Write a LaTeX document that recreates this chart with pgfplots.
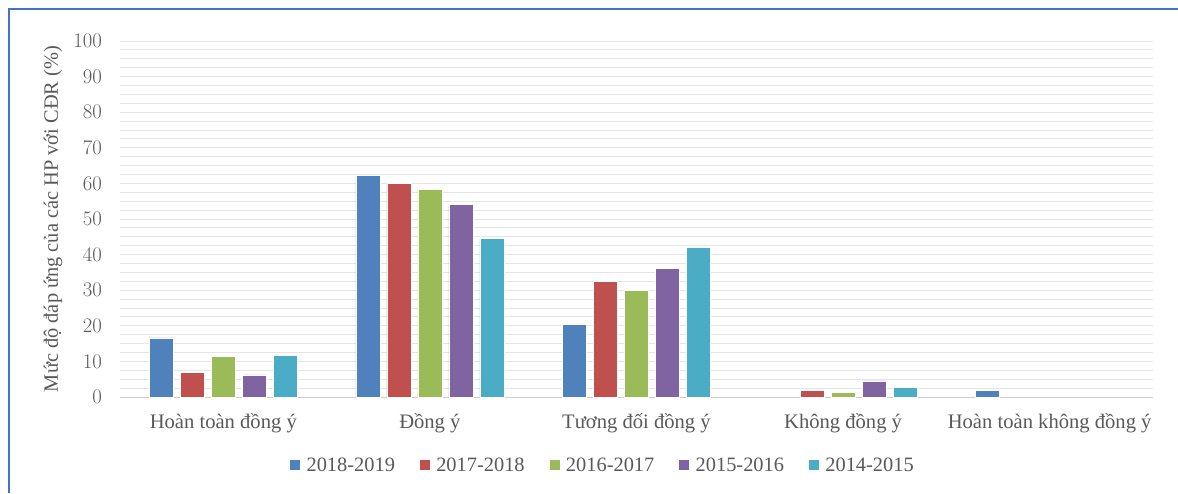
\documentclass[border=0pt]{standalone}
\usepackage{fontspec}
\setmainfont{Liberation Serif}
\usepackage{pgfplots}
\pgfplotsset{compat=1.18}
\definecolor{s1}{HTML}{4F81BD}
\definecolor{s2}{HTML}{C0504D}
\definecolor{s3}{HTML}{9BBB59}
\definecolor{s4}{HTML}{8064A2}
\definecolor{s5}{HTML}{4BACC6}
\definecolor{frame}{HTML}{4472C4}
\definecolor{lbl}{HTML}{595959}
\begin{document}
\begin{tikzpicture}
\begin{axis}[
  at={(120pt,96pt)}, anchor=south west,
  scale only axis, width=1033pt, height=356pt,
  ybar=7pt, bar width=24pt,
  xmin=-0.5, xmax=4.5, ymin=0, ymax=100,
  enlargelimits=false,
  xtick={0,1,2,3,4},
  xticklabels={Hoàn toàn đồng ý, Đồng ý, Tương đối đồng ý, Không đồng ý, Hoàn toàn không đồng ý},
  ytick={0,10,...,100},
  minor y tick num=3,
  ymajorgrids, yminorgrids,
  major grid style={draw=gray!20, line width=0.9pt},
  minor grid style={draw=gray!20, line width=0.9pt},
  axis lines*=left,
  y axis line style={draw=none},
  x axis line style={draw=gray!40, line width=0.9pt},
  major tick length=0pt, minor tick length=0pt,
  tick style={draw=none},
  tick label style={font=\fontsize{20.6}{24}\selectfont, text=lbl},
  yticklabel style={inner xsep=0pt, xshift=-18pt},
  xticklabel style={yshift=-13pt},
  ylabel={Mức độ đáp ứng của các HP với CĐR (\%)},
  every axis y label/.style={at={(axis description cs:-0.0649,0.5)}, rotate=90, anchor=center, font=\fontsize{20.4}{24}\selectfont, text=lbl},
  legend columns=5,
  legend style={at={(0.4676,-0.191)}, anchor=center, draw=none, fill=none,
    font=\fontsize{20.4}{24}\selectfont, text=lbl,
    /tikz/every even column/.append style={column sep=23pt},
    /tikz/every odd column/.append style={column sep=0pt}},
  legend image code/.code={\fill[#1,draw=none] (0pt,-5pt) rectangle (10pt,5pt); \path (14pt,0pt);},
]
\addplot[fill=s1, draw=white, line width=0.6pt] coordinates {(0,16.6) (1,62.2) (2,20.5) (4,1.8)};
\addplot[fill=s2, draw=white, line width=0.6pt] coordinates {(0,6.9) (1,60.0) (2,32.4) (3,1.8)};
\addplot[fill=s3, draw=white, line width=0.6pt] coordinates {(0,11.4) (1,58.3) (2,30.0) (3,1.4)};
\addplot[fill=s4, draw=white, line width=0.6pt] coordinates {(0,6.2) (1,54.0) (2,36.1) (3,4.5)};
\addplot[fill=s5, draw=white, line width=0.6pt] coordinates {(0,11.7) (1,44.5) (2,42.1) (3,2.6)};
\legend{2018-2019, 2017-2018, 2016-2017, 2015-2016, 2014-2015}
\end{axis}
\draw[frame, line width=2.2pt] (9pt,0pt) -- (9pt,484pt) -- (1178pt,484pt);
\pgfresetboundingbox
\path[use as bounding box] (0pt,0pt) rectangle (1178pt,493pt);
\end{tikzpicture}
\end{document}
